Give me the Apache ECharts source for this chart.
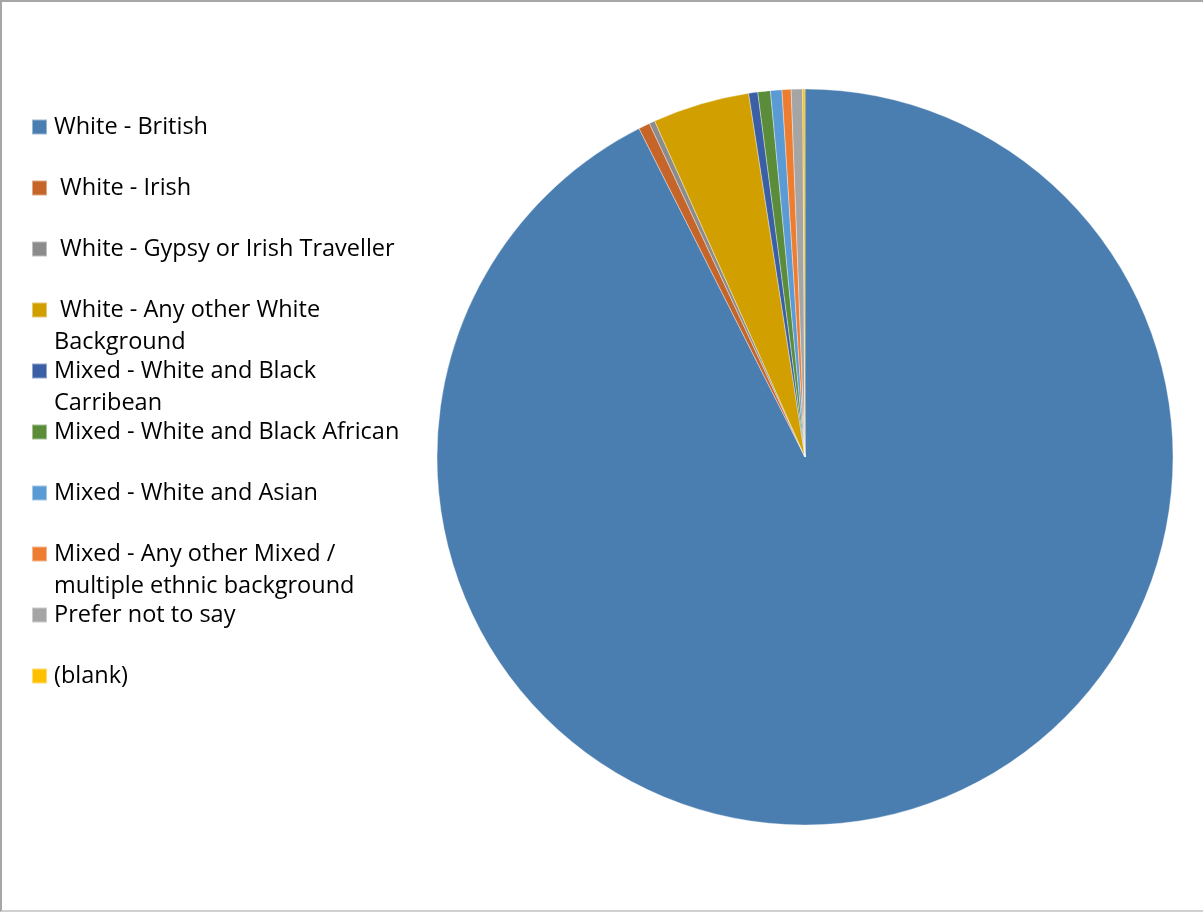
<!DOCTYPE html>
<html>
<head>
<meta charset="utf-8">
<script src="https://cdn.jsdelivr.net/npm/echarts@6/dist/echarts.min.js"></script>
<style>
  html, body { margin: 0; padding: 0; background: #fff; }
  #frame { position: absolute; left: 0; top: 0; width: 1203px; height: 912px; box-sizing: border-box;
           border-top: 2px solid #a6a6a6; border-left: 2px solid #a6a6a6; border-bottom: 2px solid #d0d0d0; }
  #chart { position: absolute; left: 0; top: 0; width: 1203px; height: 912px; }
</style>
</head>
<body>
<div id="frame"></div>
<div id="chart"></div>
<script>
const categories = [
  "White - British",
  " White - Irish",
  " White - Gypsy or Irish Traveller",
  " White - Any other White Background",
  "Mixed - White and Black Carribean",
  "Mixed - White and Black African",
  "Mixed - White and Asian",
  "Mixed - Any other Mixed / multiple ethnic background",
  "Prefer not to say",
  "(blank)"
];
const values = [1852, 10, 5, 85, 8, 11, 10, 8, 10, 2];
const colors = ["#4a7eb0", "#c5652a", "#8c8c8c", "#d29f00", "#3a5fa5", "#5b8c3a", "#5b9bd5", "#ed7d31", "#a5a5a5", "#ffc000"];
// legend entries whose text wraps onto a second line (icon aligns with the first line)
const wrappedLegend = [3, 4, 7];

const chart = echarts.init(document.getElementById('chart'), null, { renderer: 'canvas' });
chart.setOption({
  animation: false,
  backgroundColor: 'transparent',
  color: colors,
  legend: {
    orient: 'vertical',
    left: 31,
    top: 79,
    padding: 0,
    icon: 'rect',
    itemWidth: 15,
    itemHeight: 15,
    itemGap: -35,
    selectedMode: false,
    formatter: function (name) {
      return wrappedLegend.includes(categories.indexOf(name)) ? '\n' + name : name;
    },
    data: categories.map((c, i) => ({
      name: c,
      textStyle: { padding: wrappedLegend.includes(i) ? [0, 0, 0, 2] : [32, 0, 32, 2] }
    })),
    textStyle: {
      fontFamily: 'Open Sans',
      fontSize: 23.5,
      color: '#000',
      lineHeight: 32,
      width: 360,
      overflow: 'break'
    }
  },
  series: [{
    type: 'pie',
    center: [805, 457],
    radius: 368,
    startAngle: 90,
    clockwise: true,
    label: { show: false },
    labelLine: { show: false },
    emphasis: { disabled: true },
    itemStyle: { borderColor: 'rgba(255,255,255,0.45)', borderWidth: 0.8 },
    data: categories.map((c, i) => ({ name: c, value: values[i] }))
  }]
});
</script>
</body>
</html>
